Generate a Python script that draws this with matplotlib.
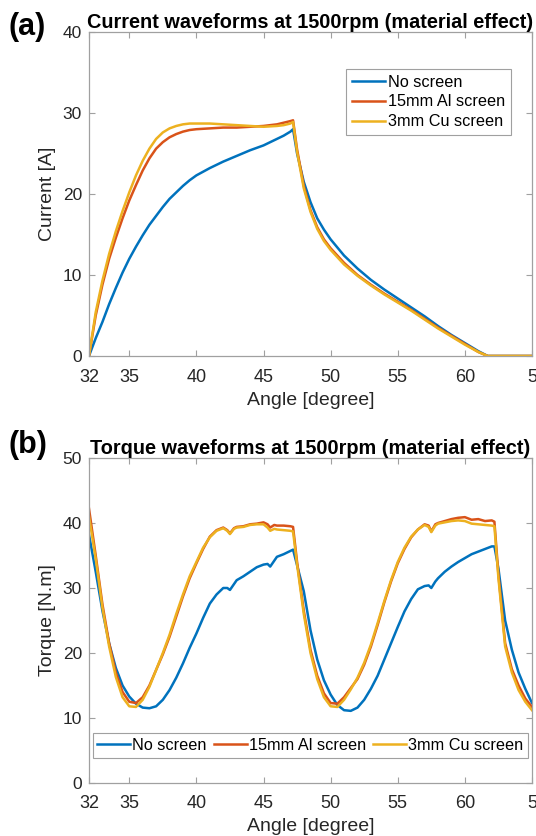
import matplotlib
matplotlib.use("Agg")
import matplotlib.pyplot as plt

plt.rcParams['font.family'] = ['Liberation Sans', 'DejaVu Sans']

series_names = ["No screen", "15mm Al screen", "3mm Cu screen"]
colors = ["#0072BD", "#D95319", "#EDB120"]

xticks = [32, 35, 40, 45, 50, 55, 60, 65]
xtick_labels = ["32", "35", "40", "45", "50", "55", "60", "5"]

# ---- (a) current ----
cur_angle = [32.0, 32.5, 33.0, 33.5, 34.0, 34.5, 35.0, 35.5, 36.0, 36.5, 37.0, 37.5, 38.0, 38.5,
             39.0, 39.5, 40.0, 41.0, 42.0, 43.0, 44.0, 45.0, 46.0, 46.5, 47.0, 47.2, 47.5, 48.0,
             48.5, 49.0, 49.5, 50.0, 51.0, 52.0, 53.0, 54.0, 55.0, 56.0, 57.0, 58.0, 59.0, 60.0,
             61.0, 61.7, 65.0]
cur_none = [0, 2.2, 4.2, 6.4, 8.4, 10.3, 12.0, 13.5, 14.9, 16.2, 17.3, 18.4, 19.4, 20.2,
            21.0, 21.7, 22.3, 23.2, 24.0, 24.7, 25.4, 26.0, 26.8, 27.2, 27.7, 28.0, 25.0, 21.5,
            19.0, 17.0, 15.6, 14.4, 12.4, 10.8, 9.4, 8.2, 7.1, 6.0, 4.9, 3.7, 2.6, 1.6,
            0.6, 0, 0]
cur_al = [0, 5.0, 8.8, 12.0, 14.6, 17.0, 19.2, 21.1, 22.9, 24.4, 25.6, 26.4, 27.0, 27.4,
          27.7, 27.9, 28.0, 28.1, 28.2, 28.2, 28.3, 28.4, 28.6, 28.8, 29.0, 29.1, 25.5, 21.0,
          18.0, 15.9, 14.4, 13.3, 11.5, 10.0, 8.8, 7.7, 6.7, 5.7, 4.6, 3.5, 2.5, 1.5,
          0.5, 0, 0]
cur_cu = [0, 5.4, 9.3, 12.6, 15.4, 17.9, 20.2, 22.3, 24.1, 25.6, 26.8, 27.6, 28.1, 28.4,
          28.6, 28.7, 28.7, 28.7, 28.6, 28.5, 28.4, 28.3, 28.4, 28.5, 28.7, 28.9, 25.2, 20.7,
          17.8, 15.7, 14.2, 13.1, 11.3, 9.9, 8.7, 7.6, 6.6, 5.6, 4.5, 3.4, 2.4, 1.4,
          0.5, 0, 0]

# ---- (b) torque ----
tq_angle = [32.0, 32.5, 33.0, 33.5, 34.0, 34.5, 35.0, 35.5, 36.0, 36.5, 37.0, 37.5, 38.0, 38.5,
            39.0, 39.5, 40.0, 40.5, 41.0, 41.5, 42.0, 42.3, 42.5, 42.8, 43.0, 43.5, 44.0, 44.5,
            45.0, 45.3, 45.5, 45.8, 46.0, 46.5, 47.0, 47.2,
            47.5, 48.0, 48.5, 49.0, 49.5, 50.0, 50.5, 51.0, 51.5, 52.0, 52.5, 53.0, 53.5, 54.0,
            54.5, 55.0, 55.5, 56.0, 56.5, 57.0, 57.3, 57.5, 57.8, 58.0, 58.5, 59.0, 59.5, 60.0,
            60.5, 61.0, 61.5, 62.0, 62.2,
            62.5, 63.0, 63.5, 64.0, 64.5, 65.0]
tq_none = [38.2, 32.5, 26.5, 21.5, 17.7, 15.0, 13.3, 12.2, 11.6, 11.5, 11.8, 12.8, 14.3, 16.2,
           18.4, 20.8, 23.0, 25.4, 27.6, 29.0, 30.0, 30.0, 29.7, 30.6, 31.2, 31.8, 32.5, 33.2,
           33.6, 33.7, 33.3, 34.2, 34.8, 35.2, 35.7, 35.9,
           33.5, 29.5, 23.5, 19.0, 15.8, 13.6, 12.0, 11.2, 11.1, 11.6, 12.8, 14.5, 16.5, 19.0,
           21.5, 24.0, 26.4, 28.3, 29.8, 30.3, 30.4, 30.0, 31.0, 31.5, 32.5, 33.3, 34.0, 34.6,
           35.2, 35.6, 36.0, 36.4, 36.4,
           33.0, 25.0, 20.5, 17.0, 14.5, 12.3]
tq_al = [42.2, 35.0, 27.5, 21.5, 17.0, 14.0, 12.5, 12.3, 13.2, 15.0, 17.4, 19.8, 22.5, 25.6,
         28.7, 31.5, 33.8, 36.0, 37.9, 38.9, 39.3, 38.9, 38.4, 39.2, 39.4, 39.5, 39.8, 39.9,
         40.1, 39.8, 39.3, 39.7, 39.6, 39.6, 39.5, 39.4,
         34.0, 26.5, 20.5, 16.5, 13.8, 12.3, 12.2, 13.2, 14.6, 16.0, 18.2, 21.0, 24.3, 27.8,
         31.0, 33.8, 36.0, 37.8, 39.0, 39.8, 39.6, 38.7, 39.8, 40.0, 40.3, 40.6, 40.8, 40.9,
         40.5, 40.6, 40.3, 40.4, 40.2,
         32.0, 21.5, 17.5, 15.0, 13.0, 11.7]
tq_cu = [41.0, 34.5, 27.0, 21.0, 16.3, 13.2, 11.8, 11.7, 12.8, 14.8, 17.4, 20.0, 22.8, 26.0,
         29.0, 31.8, 34.0, 36.2, 37.8, 38.8, 39.2, 38.8, 38.3, 39.1, 39.3, 39.4, 39.7, 39.8,
         39.8, 39.3, 38.8, 39.1, 39.0, 38.9, 38.8, 38.7,
         33.6, 26.0, 20.0, 16.0, 13.2, 11.8, 11.7, 12.8, 14.4, 16.2, 18.5, 21.3, 24.6, 28.0,
         31.2, 34.0, 36.2, 37.9, 39.0, 39.7, 39.4, 38.6, 39.6, 39.9, 40.1, 40.3, 40.4, 40.3,
         39.9, 39.8, 39.7, 39.6, 39.5,
         31.5, 21.0, 17.0, 14.3, 12.5, 11.2]

W, H = 536, 836
fig = plt.figure(figsize=(W / 100, H / 100), dpi=100)

spine_col = "#a0a0a0"
text_col = "#262626"


def style_axes(ax, ymax, ystep):
    ax.set_xlim(32, 65)
    ax.set_ylim(0, ymax)
    ax.set_xticks(xticks)
    ax.set_xticklabels(xtick_labels)
    ax.set_yticks(list(range(0, ymax + 1, ystep)))
    for s in ax.spines.values():
        s.set_color(spine_col)
        s.set_linewidth(0.9)
    ax.tick_params(direction="in", top=True, right=True, length=4, width=0.8,
                   color=spine_col, labelcolor=text_col)
    ax.tick_params(axis="x", labelsize=13, pad=9)
    ax.tick_params(axis="y", labelsize=12.5, pad=5)


ax1 = fig.add_axes([89 / W, 1 - 356 / H, 443 / W, 324 / H])
for y, c, n in zip([cur_none, cur_al, cur_cu], colors, series_names):
    ax1.plot(cur_angle, y, color=c, lw=1.8, label=n)
style_axes(ax1, 40, 10)
ax1.set_xlabel("Angle [degree]", fontsize=14, color=text_col, labelpad=5)
ax1.set_ylabel("Current [A]", fontsize=14, color=text_col, labelpad=5)
ax1.set_title("Current waveforms at 1500rpm (material effect)", fontsize=14.3,
              fontweight="bold", pad=3)
leg1 = ax1.legend(loc="upper right", bbox_to_anchor=(0.952, 0.886), fontsize=11.7,
                  frameon=True, fancybox=False, framealpha=1, edgecolor="#a0a0a0",
                  handlelength=2.0, handletextpad=0.2, labelspacing=0.3, borderpad=0.35,
                  borderaxespad=0)
leg1.get_frame().set_linewidth(0.8)

ax2 = fig.add_axes([89 / W, 1 - 783 / H, 443 / W, 325 / H])
for y, c, n in zip([tq_none, tq_al, tq_cu], colors, series_names):
    ax2.plot(tq_angle, y, color=c, lw=1.8, label=n)
style_axes(ax2, 50, 10)
ax2.set_xlabel("Angle [degree]", fontsize=14, color=text_col, labelpad=4)
ax2.set_ylabel("Torque [N.m]", fontsize=14, color=text_col, labelpad=5)
ax2.set_title("Torque waveforms at 1500rpm (material effect)", fontsize=14.3,
              fontweight="bold", pad=3)
leg2 = ax2.legend(loc="lower center", bbox_to_anchor=(0.5, 0.078), ncol=3, fontsize=11.7,
                  frameon=True, fancybox=False, framealpha=1, edgecolor="#a0a0a0",
                  handlelength=2.0, handletextpad=0.15, columnspacing=0.45, borderpad=0.3,
                  borderaxespad=0)
leg2.get_frame().set_linewidth(0.8)

fig.text(8 / W, 1 - 27 / H, "(a)", fontsize=22, fontweight="bold", ha="left", va="center")
fig.text(8 / W, 1 - 445 / H, "(b)", fontsize=22, fontweight="bold", ha="left", va="center")

fig.savefig("out.png", dpi=100)
